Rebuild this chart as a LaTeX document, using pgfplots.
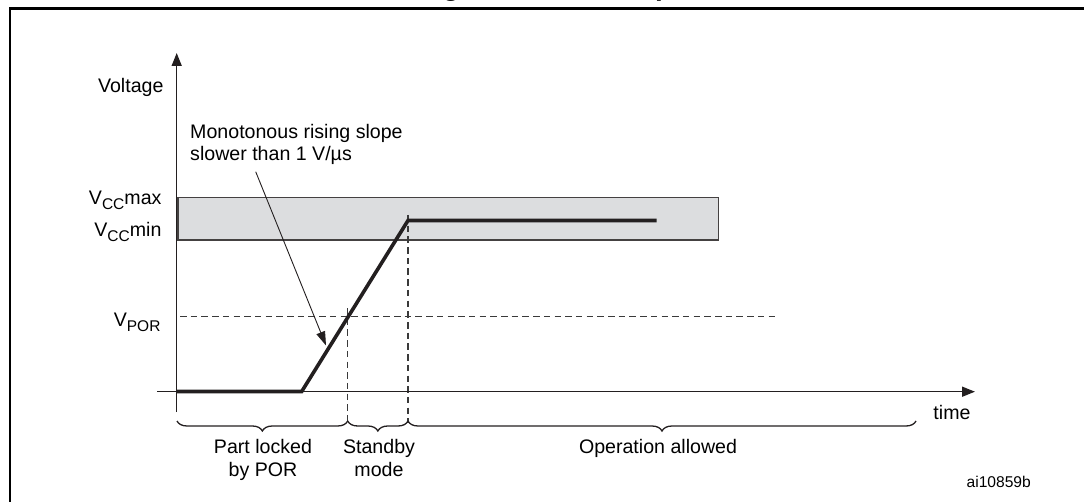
\documentclass[border=0pt]{standalone}
\usepackage{pgfplots}
\pgfplotsset{compat=1.18}
\usepackage{fontspec}
\setmainfont{Liberation Sans}
\usetikzlibrary{arrows.meta,decorations.pathreplacing}
\definecolor{ink}{HTML}{231F20}
\definecolor{bandfill}{HTML}{DCDDDF}
\definecolor{dashc}{HTML}{3A3A3A}
\newcommand{\fs}{\fontsize{19.6}{23.4}\selectfont}
\newcommand{\sub}[1]{\raisebox{-4.5pt}{\fontsize{15.5}{16}\selectfont #1}}
\begin{document}
\begin{tikzpicture}
\begin{axis}[name=ax, hide axis, scale only axis, width=1084pt, height=501pt,
  xmin=0, xmax=1084, ymin=-501, ymax=0, clip=false,
  every node/.style={inner sep=0pt, text=ink}]
% frame
\addplot[mark=none, draw=black, line width=2.4pt] coordinates {(9.7,-700) (9.7,-8.7) (1200,-8.7)};
% band Vcc min..max
\addplot[mark=none, fill=bandfill, draw=ink!85, line width=1.4pt] coordinates {(178,-197.7) (718.3,-197.7) (718.3,-240) (178,-240)} -- cycle;
% VPOR dashed
\addplot[mark=none, draw=dashc, line width=1.3pt, dash pattern=on 6.5pt off 4.2pt] coordinates {(180,-316.5) (776,-316.5)};
% vertical dashed
\addplot[mark=none, draw=dashc, line width=1.3pt, dash pattern=on 6.5pt off 4.2pt] coordinates {(347.7,-308) (347.7,-423)};
\addplot[mark=none, draw=dashc, line width=1.3pt, dash pattern=on 6.5pt off 4.2pt] coordinates {(408,-215) (408,-423)};
% axes
\addplot[mark=none, draw=ink, line width=1.5pt, -{Triangle[length=13pt,width=10pt]}] coordinates {(176.7,-412) (176.7,-53)};
\addplot[mark=none, draw=ink, line width=1.5pt, -{Triangle[length=13pt,width=10pt]}] coordinates {(157,-391.7) (975,-391.7)};
% signal
\addplot[mark=none, draw=ink, line width=3.6pt, line join=miter] coordinates {(177,-391.5) (301.7,-391.5) (408,-220.5) (656.7,-220.5)};
% annotation arrow
\addplot[mark=none, draw=ink, line width=0.9pt, -{Triangle[length=14pt,width=9pt]}] coordinates {(255.7,-171.7) (326,-345.5)};
% braces
\addplot[mark=none, draw=ink, line width=1.3pt, decorate, decoration={brace, mirror, amplitude=10pt}] coordinates {(177,-421) (347.7,-421)};
\addplot[mark=none, draw=ink, line width=1.3pt, decorate, decoration={brace, mirror, amplitude=10pt}] coordinates {(347.7,-421) (408,-421)};
\addplot[mark=none, draw=ink, line width=1.3pt, decorate, decoration={brace, mirror, amplitude=10pt}] coordinates {(408,-421) (916,-421)};
% texts
\node[anchor=base, font=\bfseries\fontsize{28}{30}\selectfont] at (axis cs:545,4.8) {Figure 3. Power-up};
\node[anchor=base east, font=\fs] at (axis cs:167,-92.3) {Voltage};
\node[anchor=base west, font=\fs] at (axis cs:186.7,-138.3) {Monotonous rising slope};
\node[anchor=base west, font=\fs] at (axis cs:186.7,-160.5) {slower than 1 V/µs};
\node[anchor=base east, font=\fs] at (axis cs:165,-205) {V\sub{CC}max};
\node[anchor=base east, font=\fs] at (axis cs:165,-237) {V\sub{CC}min};
\node[anchor=base east, font=\fs] at (axis cs:164,-326.5) {V\sub{POR}};
\node[anchor=base, font=\fs] at (axis cs:952,-419) {time};
\node[anchor=base, font=\fs] at (axis cs:263,-453.3) {Part locked};
\node[anchor=base, font=\fs] at (axis cs:263,-476.7) {by POR};
\node[anchor=base, font=\fs] at (axis cs:379,-453.3) {Standby};
\node[anchor=base, font=\fs] at (axis cs:379,-476.7) {mode};
\node[anchor=base, font=\fs] at (axis cs:658,-453.3) {Operation allowed};
\node[anchor=base, font=\fontsize{15.6}{18}\selectfont] at (axis cs:998.7,-487.3) {ai10859b};
\end{axis}
\pgfresetboundingbox
\path[use as bounding box] (ax.south west) rectangle (ax.north east);
\end{tikzpicture}
\end{document}
